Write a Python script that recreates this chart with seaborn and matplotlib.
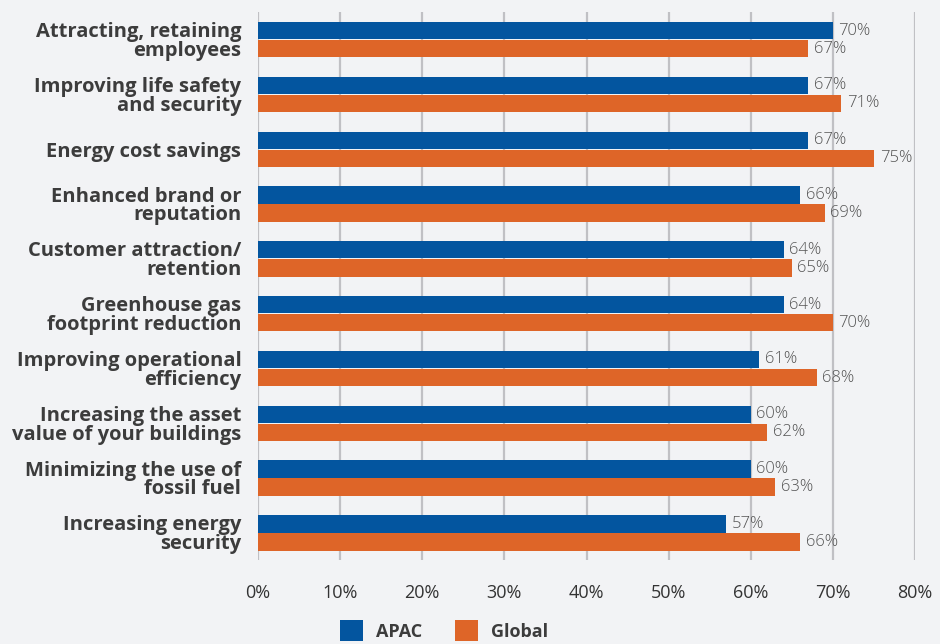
import pandas as pd
import seaborn as sns
import matplotlib.pyplot as plt

categories = [
    "Attracting, retaining\nemployees",
    "Improving life safety\nand security",
    "Energy cost savings",
    "Enhanced brand or\nreputation",
    "Customer attraction/\nretention",
    "Greenhouse gas\nfootprint reduction",
    "Improving operational\nefficiency",
    "Increasing the asset\nvalue of your buildings",
    "Minimizing the use of\nfossil fuel",
    "Increasing energy\nsecurity",
]
apac = [70, 67, 67, 66, 64, 64, 61, 60, 60, 57]
global_vals = [67, 71, 75, 69, 65, 70, 68, 62, 63, 66]

df = pd.DataFrame({
    "Benefit": categories * 2,
    "Share": apac + global_vals,
    "Region": ["APAC"] * len(categories) + ["Global"] * len(categories),
})

sns.set_style("white")
plt.rcParams['font.family'] = ['Open Sans', 'DejaVu Sans']

bg = "#F2F3F5"
fig = plt.figure(figsize=(9.4, 6.44), dpi=100, facecolor=bg)
ax = fig.add_axes([0.2745, 0.13, 0.699, 0.851])
ax.set_facecolor(bg)

sns.barplot(data=df, y="Benefit", x="Share", hue="Region", orient="h",
            palette={"APAC": "#03559F", "Global": "#DE6528"}, saturation=1,
            width=0.66, gap=0.04, linewidth=0, ax=ax, zorder=3)

for cont in ax.containers:
    ax.bar_label(cont, labels=[f"{v:.0f}%" for v in cont.datavalues],
                 padding=4, fontsize=12, color="#555555", fontweight="light")

ax.set_xlim(0, 80)
ax.set_xticks(range(0, 81, 10))
ax.set_xticklabels([f"{t}%" for t in range(0, 81, 10)], fontsize=13, color="#333333")
ax.tick_params(axis="x", length=0, pad=17)
ax.tick_params(axis="y", length=0, pad=12)
for lab in ax.get_yticklabels():
    lab.set_fontsize(14.5)
    lab.set_fontweight("bold")
    lab.set_color("#3C3C3C")
    lab.set_horizontalalignment("right")
    lab.set_linespacing(0.92)

ax.grid(axis="x", color="#C0C0C4", linewidth=1.6, zorder=0)
ax.set_axisbelow(True)
for s in ax.spines.values():
    s.set_visible(False)
ax.set_xlabel("")
ax.set_ylabel("")

leg = ax.legend(loc="upper center", bbox_to_anchor=(0.283, -0.08), ncol=2,
                frameon=False, fontsize=13, handlelength=1.3, handleheight=1.4,
                columnspacing=1.8, handletextpad=0.7)
for t in leg.get_texts():
    t.set_fontweight("bold")
    t.set_color("#3C3C3C")

fig.savefig("out.png", dpi=100, facecolor=bg)
